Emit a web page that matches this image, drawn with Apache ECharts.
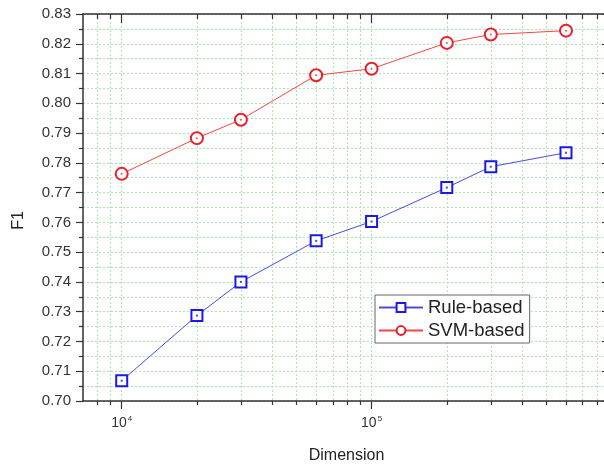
<!DOCTYPE html>
<html>
<head>
<meta charset="utf-8">
<script src="https://cdn.jsdelivr.net/npm/echarts@6/dist/echarts.min.js"></script>
<style>html,body{margin:0;padding:0;background:#fff;}#c{width:604px;height:468px;}</style>
</head>
<body>
<div id="c"></div>
<script>
const dimensions = [10000, 20000, 30000, 60000, 100000, 200000, 300000, 600000];
const ruleBased = [0.7068, 0.7287, 0.7400, 0.7538, 0.7603, 0.7717, 0.7787, 0.7834];
const svmBased = [0.7763, 0.7883, 0.7945, 0.8094, 0.8116, 0.8203, 0.8231, 0.8244];
const majorXTicks = [10000, 100000];
const minorXTicks = [8000, 9000, 20000, 30000, 40000, 50000, 60000, 70000, 80000, 90000, 200000, 300000, 400000, 500000, 600000, 700000, 800000, 900000];
const xLabelExp = {10000: '4', 100000: '5'};

const font = '"Liberation Sans", Arial, sans-serif';
const gridColor = '#ade8ad';
const xMin = 7000, xMax = 900000;

function pairs(ys) { return dimensions.map((d, i) => [d, ys[i]]); }

function xAxisBase(pos, vals, len, inside, showLine, showLabel, showSplit) {
  return {
    type: 'log', logBase: 10, min: xMin, max: xMax, position: pos,
    axisLine: {show: showLine, lineStyle: {color: '#333', width: 1.5}},
    axisTick: {show: true, customValues: vals, length: len, inside: inside, lineStyle: {color: '#333', width: 1.2}},
    axisLabel: showLabel ? {
      show: true, customValues: majorXTicks, margin: 14,
      formatter: v => '{b|10}{s|' + xLabelExp[v] + '}',
      rich: {
        b: {fontSize: 14, color: '#333', fontFamily: font},
        s: {fontSize: 8, color: '#333', fontFamily: font, padding: [0, 0, 9, 1]}
      }
    } : {show: false},
    splitLine: {show: showSplit, lineStyle: {color: gridColor, type: [2, 2], width: 1}},
    name: showLabel ? 'Dimension' : '', nameLocation: 'middle', nameGap: 47,
    nameTextStyle: {fontSize: 16, color: '#222', fontFamily: font}
  };
}

const option = {
  animation: false,
  backgroundColor: '#fff',
  grid: {left: 83, top: 14, width: 527, height: 387, containLabel: false, outerBoundsMode: 'none'},
  legend: {
    data: ['Rule-based', 'SVM-based'],
    orient: 'vertical', left: 375, top: 295,
    padding: [3, 5, 3, 3], itemGap: 4, itemWidth: 44, itemHeight: 11,
    borderColor: '#666', borderWidth: 1, backgroundColor: '#fff',
    textStyle: {fontSize: 18.5, color: '#222', fontFamily: font}
  },
  xAxis: [
    xAxisBase('bottom', majorXTicks, 8, false, true, true, true),
    xAxisBase('bottom', minorXTicks, 4, false, false, false, true),
    xAxisBase('top', majorXTicks, 9, true, true, false, false),
    xAxisBase('top', minorXTicks, 5, true, false, false, false)
  ],
  yAxis: [
    {
      type: 'value', min: 0.70, max: 0.83, interval: 0.01, position: 'left',
      axisLine: {show: true, lineStyle: {color: '#333', width: 1.5}},
      axisTick: {show: true, length: 7, lineStyle: {color: '#333', width: 1.2}},
      minorTick: {show: true, splitNumber: 2, length: 4, lineStyle: {color: '#333', width: 1.2}},
      axisLabel: {formatter: v => v.toFixed(2), fontSize: 15, color: '#333', fontFamily: font, margin: 12},
      splitLine: {show: true, lineStyle: {color: gridColor, type: [2, 2], width: 1}},
      minorSplitLine: {show: true, lineStyle: {color: gridColor, type: [2, 2], width: 1}},
      name: 'F1', nameLocation: 'middle', nameGap: 56, nameRotate: 90,
      nameTextStyle: {fontSize: 16, color: '#222', fontFamily: font, padding: [0, 0, 0, -26]}
    },
    {
      type: 'value', min: 0.70, max: 0.83, interval: 0.01, position: 'right',
      axisLine: {show: true, lineStyle: {color: '#333', width: 1.5}},
      axisTick: {show: true, inside: true, length: 8, lineStyle: {color: '#333', width: 1.2}},
      minorTick: {show: true, splitNumber: 2, length: 4, lineStyle: {color: '#333', width: 1.2}},
      axisLabel: {show: false},
      splitLine: {show: false}
    }
  ],
  series: [
    {
      name: 'Rule-based', type: 'line', data: pairs(ruleBased),
      symbol: 'rect', symbolSize: 11,
      lineStyle: {color: '#4a4ae0', width: 1},
      itemStyle: {color: '#fff', borderColor: '#1a1ae6', borderWidth: 2}, z: 3
    },
    {
      name: 'SVM-based', type: 'line', data: pairs(svmBased),
      symbol: 'circle', symbolSize: 12,
      lineStyle: {color: '#f04848', width: 1},
      itemStyle: {color: '#fff', borderColor: '#e8202a', borderWidth: 2}, z: 3
    },
    {
      name: 'ruleDot', type: 'scatter', data: pairs(ruleBased), symbol: 'rect', symbolSize: 2,
      itemStyle: {color: '#1a1ae6'}, z: 4, silent: true
    },
    {
      name: 'svmDot', type: 'scatter', data: pairs(svmBased), symbol: 'circle', symbolSize: 2,
      itemStyle: {color: '#e8202a'}, z: 4, silent: true
    }
  ]
};

const chart = echarts.init(document.getElementById('c'), null, {renderer: 'canvas'});
chart.setOption(option);
</script>
</body>
</html>
